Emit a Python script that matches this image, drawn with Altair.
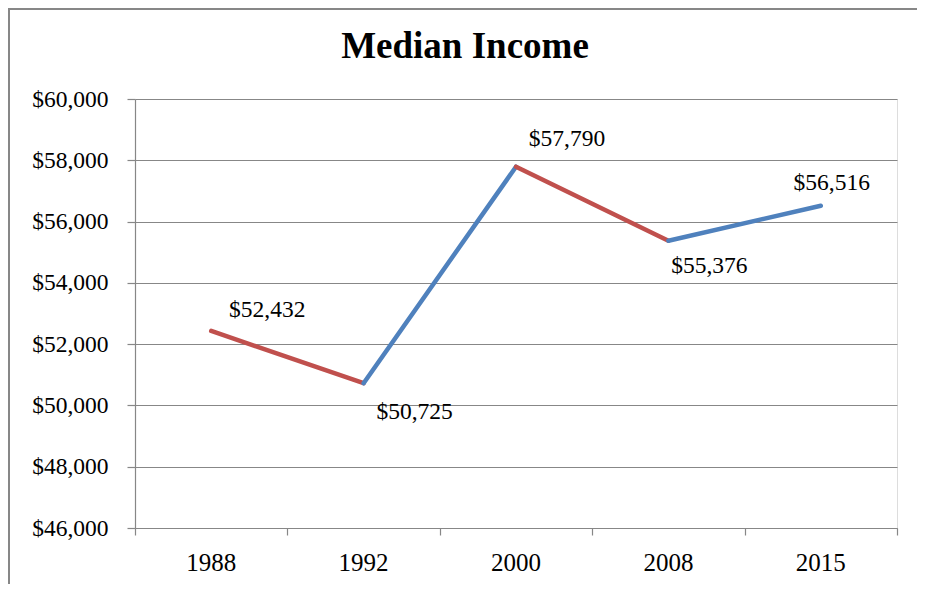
import altair as alt
import pandas as pd

# ---- data ----
years = ["1988", "1992", "2000", "2008", "2015"]
incomes = [52432, 50725, 57790, 55376, 56516]
y_ticks = [46000, 48000, 50000, 52000, 54000, 56000, 58000, 60000]
chart_title = "Median Income"

# ---- styles ----
RED = "#C0504D"
BLUE = "#4F81BD"
GREY = "#878787"
FONT = "'Liberation Serif', 'Times New Roman', serif"
W, H = 762, 429
PAD = {"left": 127, "top": 91, "right": 20, "bottom": 56}

pts = pd.DataFrame({
    "year": years,
    "income": incomes,
    "pos": [i + 0.5 for i in range(len(years))],
    "label": ["$" + f"{v:,}" for v in incomes],
})

seg_rows = []
for i in range(len(years) - 1):
    trend = "down" if incomes[i + 1] < incomes[i] else "up"
    for j in (i, i + 1):
        seg_rows.append({"seg": i, "pos": j + 0.5, "income": incomes[j], "trend": trend})
segs = pd.DataFrame(seg_rows)

x_enc = alt.X(
    "pos:Q",
    scale=alt.Scale(domain=[0, len(years)], nice=False, zero=False),
    axis=alt.Axis(values=list(range(len(years) + 1)), labels=False, title=None,
                  grid=False, domainColor=GREY, tickColor=GREY, tickSize=7,
                  domainWidth=1.2, tickWidth=1.2),
)
y_enc = alt.Y(
    "income:Q",
    scale=alt.Scale(domain=[y_ticks[0], y_ticks[-1]], nice=False, zero=False),
    axis=alt.Axis(values=y_ticks, format="$,d", labelFont=FONT, labelFontSize=23.5,
                  labelColor="black", labelPadding=19, tickSize=8, tickColor=GREY,
                  grid=True, gridColor=GREY, gridWidth=1.2, domainColor=GREY,
                  domainWidth=1.2, tickWidth=1.2, title=None),
)

lines = alt.Chart(segs).mark_line(strokeWidth=4.5, strokeCap="round").encode(
    x=x_enc, y=y_enc, detail="seg:N",
    color=alt.Color("trend:N", scale=alt.Scale(domain=["down", "up"], range=[RED, BLUE]), legend=None),
)

offsets = [(56, -21), (51, 29), (51, -28), (41, 25), (11, -23)]
label_layers = []
for yr, (dx, dy) in zip(years, offsets):
    label_layers.append(
        alt.Chart(pts).transform_filter(alt.datum.year == yr)
        .mark_text(font=FONT, fontSize=23.5, color="black", dx=dx, dy=dy)
        .encode(x="pos:Q", y="income:Q", text="label:N")
    )

year_labels = alt.Chart(pts).mark_text(font=FONT, fontSize=25, color="black", baseline="middle").encode(
    x="pos:Q", y=alt.value(H + 35), text="year:N"
)

title_mark = alt.Chart(pd.DataFrame({"t": [chart_title]})).mark_text(
    font=FONT, fontSize=37, fontWeight="bold", color="black", align="center", baseline="alphabetic"
).encode(x=alt.value(330), y=alt.value(-41), text="t:N")

border_left = alt.Chart(pts).mark_rule(color=GREY, strokeWidth=2).encode(
    x=alt.value(-126), y=alt.value(-90), y2=alt.value(H + PAD["bottom"])
)
border_top = alt.Chart(pts).mark_rule(color=GREY, strokeWidth=2).encode(
    y=alt.value(-90), x=alt.value(-127), x2=alt.value(W + PAD["right"])
)

chart = alt.layer(lines, *label_layers, year_labels, title_mark, border_left, border_top).properties(
    width=W, height=H,
    autosize=alt.AutoSizeParams(type="none"),
    padding=PAD,
).configure_view(stroke=None).configure(background="white")

chart.save("out.html", embed_options={"renderer": "svg", "actions": False})
